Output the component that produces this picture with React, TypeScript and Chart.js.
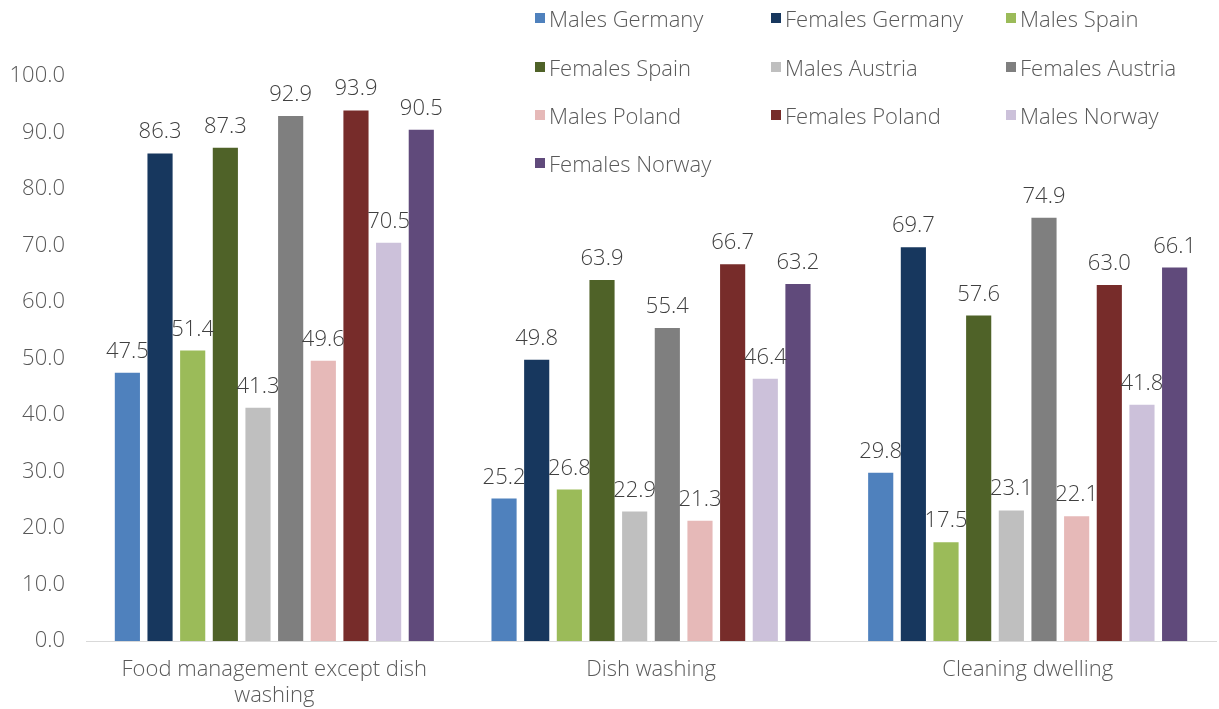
import React, { useEffect, useRef } from "react";
import { Chart, registerables } from "chart.js";

Chart.register(...registerables);

const categories: string[][] = [["Food management except dish", "washing"], ["Dish washing"], ["Cleaning dwelling"]];
const seriesNames = [
  "Males Germany", "Females Germany", "Males Spain", "Females Spain", "Males Austria",
  "Females Austria", "Males Poland", "Females Poland", "Males Norway", "Females Norway",
];
const malesGermany = [47.5, 25.2, 29.8];
const femalesGermany = [86.3, 49.8, 69.7];
const malesSpain = [51.4, 26.8, 17.5];
const femalesSpain = [87.3, 63.9, 57.6];
const malesAustria = [41.3, 22.9, 23.1];
const femalesAustria = [92.9, 55.4, 74.9];
const malesPoland = [49.6, 21.3, 22.1];
const femalesPoland = [93.9, 66.7, 63.0];
const malesNorway = [70.5, 46.4, 41.8];
const femalesNorway = [90.5, 63.2, 66.1];
const seriesValues = [
  malesGermany, femalesGermany, malesSpain, femalesSpain, malesAustria,
  femalesAustria, malesPoland, femalesPoland, malesNorway, femalesNorway,
];
const colors = [
  "#4f81bd", "#17375e", "#9bbb59", "#4f6228", "#bfbfbf",
  "#7f7f7f", "#e6b9b8", "#772c2a", "#ccc1da", "#604a7b",
];
const yTicks = [0, 10, 20, 30, 40, 50, 60, 70, 80, 90, 100];

const FONT = "'Open Sans', Lato, sans-serif";
const WEIGHT = 300;
const SIZE = 22;

const labelPlugin = {
  id: "barLabels",
  afterDatasetsDraw(chart: any) {
    const ctx = chart.ctx;
    ctx.save();
    ctx.font = `${WEIGHT} ${SIZE}px ${FONT}`;
    ctx.fillStyle = "#404040";
    ctx.textAlign = "center";
    ctx.textBaseline = "alphabetic";
    chart.data.datasets.forEach((ds: any, i: number) => {
      const meta = chart.getDatasetMeta(i);
      meta.data.forEach((el: any, j: number) => {
        ctx.fillText(Number(ds.data[j]).toFixed(1), el.x, el.y - 15);
      });
    });
    ctx.restore();
  },
};

export default function App() {
  const ref = useRef<HTMLCanvasElement>(null);
  useEffect(() => {
    if (!ref.current) return;
    const chart = new Chart(ref.current, {
      type: "bar",
      data: {
        labels: categories,
        datasets: seriesNames.map((name, i) => ({
          label: name,
          data: seriesValues[i],
          backgroundColor: colors[i],
          categoryPercentage: 0.867,
          barPercentage: 0.77,
        })),
      },
      options: {
        animation: false,
        responsive: false,
        layout: { padding: { top: 76, left: 6, right: 3, bottom: 0 } },
        plugins: { legend: { display: false }, tooltip: { enabled: false } },
        scales: {
          x: {
            grid: { display: false, drawTicks: false, tickLength: 0 },
            border: { display: true, color: "#d9d9d9", width: 1 },
            afterFit: (axis: any) => {
              axis.height = 68;
            },
            ticks: {
              color: "#595959",
              font: { family: FONT, size: SIZE, weight: WEIGHT as any, lineHeight: "26px" as any },
              padding: 16,
            },
          },
          y: {
            min: 0,
            max: 100,
            afterBuildTicks: (axis: any) => {
              axis.ticks = yTicks.map((v) => ({ value: v }));
            },
            afterFit: (axis: any) => {
              axis.width = 80;
            },
            grid: { display: false, drawTicks: false, tickLength: 0 },
            border: { display: false },
            ticks: {
              color: "#595959",
              font: { family: FONT, size: SIZE, weight: WEIGHT as any },
              padding: 21,
              callback: (v: any) => Number(v).toFixed(1),
            },
          },
        },
      },
      plugins: [labelPlugin],
    });
    return () => chart.destroy();
  }, []);

  const legendCols = [535, 771, 1006];
  const legendRows = [19, 68, 116, 164];

  return (
    <div style={{ position: "absolute", left: 0, top: 0, width: 1219, height: 709, background: "#fff" }}>
      <canvas ref={ref} width={1219} height={709} style={{ display: "block" }} />
      {seriesNames.map((name, i) => {
        const col = i % 3;
        const row = Math.floor(i / 3);
        return (
          <div
            key={name}
            style={{
              position: "absolute",
              left: legendCols[col],
              top: legendRows[row] - 15,
              height: 28,
              display: "flex",
              alignItems: "center",
              fontFamily: FONT,
              fontWeight: WEIGHT,
              fontSize: SIZE,
              color: "#595959",
              whiteSpace: "nowrap",
            }}
          >
            <span style={{ display: "inline-block", width: 10, height: 10, background: colors[i], marginRight: 4 }} />
            <span>{name}</span>
          </div>
        );
      })}
    </div>
  );
}
